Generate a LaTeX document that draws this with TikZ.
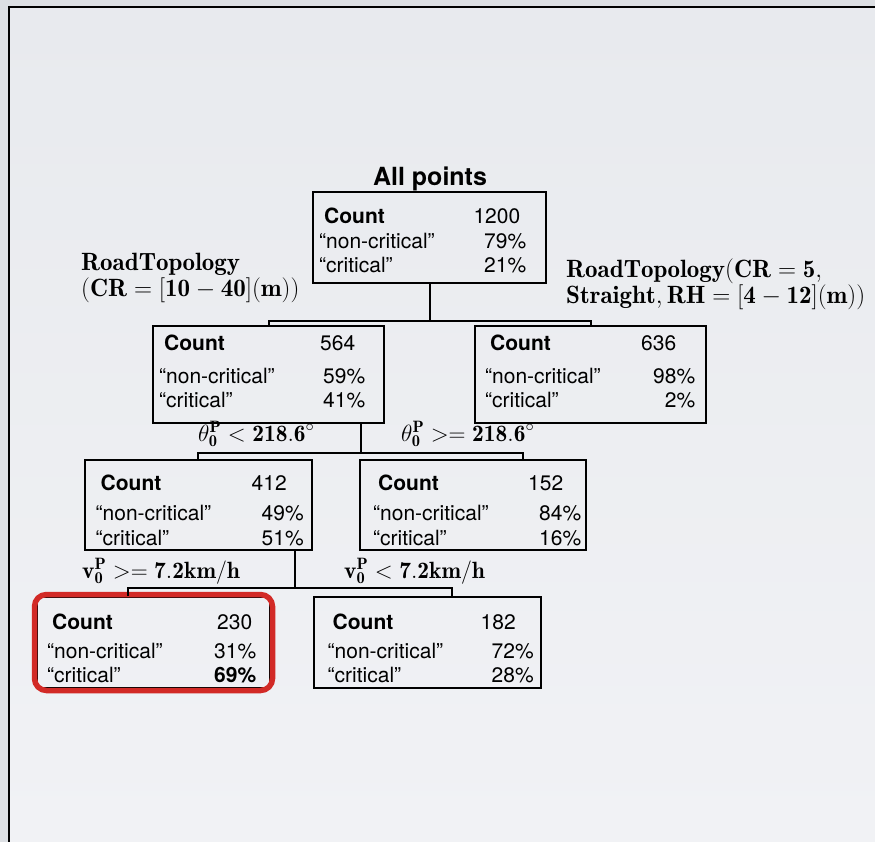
\RequirePackage{fix-cm}
\documentclass[tikz,border=0pt]{standalone}
\usepackage{fontspec}
\newfontfamily\helv{TeX Gyre Heros}
\usetikzlibrary{fit,calc}

\definecolor{paper}{HTML}{E8EAEE}
\definecolor{paperlight}{HTML}{F1F2F5}
\definecolor{paperedge}{HTML}{DCDFE3}
\definecolor{hilite}{HTML}{D22A26}

% rows of a tree cell: #1 left pad, #2 right pad of the shares, #3 right pad of the count,
% #4 extra gap below the count row, #5 count, #6 share of non-critical, #7 share of critical
\newcommand{\cellrows}[7]{%
  \hspace*{\dimexpr#1+5pt\relax}\textbf{Count}\hfill #5\kern#3\\[#4]
  \hspace*{#1}“non-critical”\hfill #6\kern#2\\
  \hspace*{#1}“critical”\hfill #7\kern#2}

\tikzset{
  cellframe/.style={draw=black, line width=2pt, inner sep=0pt},
  celltext/.style={anchor=base west, inner sep=0pt, align=left,
    font=\helv\fontsize{21}{24.5}\selectfont},
  link/.style={draw=black, line width=2pt},
  splitlabel/.style={anchor=base west, inner sep=0pt, align=left},
  bigmath/.style={font=\fontsize{25}{26}\selectfont},
  midmath/.style={font=\fontsize{23.5}{26}\selectfont}
}

\begin{document}
\begin{tikzpicture}[x=1pt, y=-1pt]
  \useasboundingbox (0,0) rectangle (875,842);

  % page background and frame
  \fill[paperedge] (0,0) rectangle (875,842);
  \shade[top color=paper, bottom color=paperlight] (9,7) rectangle (875,842);
  \draw[line width=2.5pt] (9,842) -- (9,7) -- (875,7);

  % tree cells: frames
  \node[cellframe, minimum width=233pt, minimum height=91pt] (root) at (429.5,237.5) {};
  \node[cellframe, minimum width=231pt, minimum height=97pt] (l2a) at (268.5,374.5) {};
  \node[cellframe, minimum width=231pt, minimum height=97pt] (l2b) at (590.5,374.5) {};
  \node[cellframe, minimum width=227pt, minimum height=90pt] (l3a) at (198,505) {};
  \node[cellframe, minimum width=226pt, minimum height=90pt] (l3b) at (473,505) {};
  \node[cellframe, minimum width=233pt, minimum height=91pt] (l4a) at (153.5,642.5) {};
  \node[cellframe, minimum width=227pt, minimum height=91pt] (l4b) at (427,642.5) {};

  % tree cells: contents (anchored at the baseline of the count row)
  \node[celltext, text width=233pt] (root-t) at ($(root.north west)+(0,32.5)$)
    {\cellrows{7pt}{19pt}{25pt}{0.5pt}{1200}{79\%}{21\%}};
  \node[celltext, text width=231pt] (l2a-t) at ($(l2a.north west)+(0,25.5)$)
    {\cellrows{7pt}{18pt}{28pt}{8pt}{564}{59\%}{41\%}};
  \node[celltext, text width=231pt] (l2b-t) at ($(l2b.north west)+(0,25.5)$)
    {\cellrows{11pt}{10pt}{29pt}{8pt}{636}{98\%}{2\%}};
  \node[celltext, text width=227pt] (l3a-t) at ($(l3a.north west)+(0,31.5)$)
    {\cellrows{12pt}{7pt}{24pt}{5.5pt}{412}{49\%}{51\%}};
  \node[celltext, text width=226pt] (l3b-t) at ($(l3b.north west)+(0,31.5)$)
    {\cellrows{14pt}{4pt}{22pt}{5.5pt}{152}{84\%}{16\%}};
  \node[celltext, text width=233pt] (l4a-t) at ($(l4a.north west)+(0,33)$)
    {\cellrows{11pt}{13pt}{17pt}{4.5pt}{230}{31\%}{\textbf{69\%}}};
  \node[celltext, text width=227pt] (l4b-t) at ($(l4b.north west)+(0,33)$)
    {\cellrows{15pt}{6pt}{24pt}{4.5pt}{182}{72\%}{28\%}};

  \node[anchor=base, inner sep=0pt, font=\helv\bfseries\fontsize{25}{30}\selectfont]
    (title) at (430,186) {All points};

  % highlighted leaf
  \node[fit=(l4a), inner sep=1.5pt, draw=hilite, line width=5.5pt,
        rounded corners=12pt] (mark) {};

  % split labels (anchored at the baseline of the last line)
  \node[splitlabel, font=\fontsize{25}{26}\selectfont] (s1a) at (81,296)
    {$\mathbf{RoadTopology}$\\$\mathbf{(CR=[10-40](m))}$};
  \node[splitlabel, bigmath] (s1b) at (566,303)
    {$\mathbf{RoadTopology(CR=5,}$\\$\mathbf{Straight,RH=[4-12](m))}$};
  \node[splitlabel, midmath] (s2a) at (198,441)
    {$\theta_{\mathbf{0}}^{\mathbf{P}} < \mathbf{218.6}^\circ$};
  \node[splitlabel, midmath] (s2b) at (401,441)
    {$\theta_{\mathbf{0}}^{\mathbf{P}} >= \mathbf{218.6}^\circ$};
  \node[splitlabel, midmath] (s3a) at (82,578)
    {$\mathbf{v}_{\mathbf{0}}^{\mathbf{P}} >= \mathbf{7.2km/h}$};
  \node[splitlabel, midmath] (s3b) at (344,578)
    {$\mathbf{v}_{\mathbf{0}}^{\mathbf{P}} < \mathbf{7.2km/h}$};

  % junction points of the connectors
  \coordinate (j1) at ($(root.south)+(0,37)$);
  \coordinate (d2) at ($(l2a.south east)+(-24,0)$);
  \coordinate (j2) at ($(d2)+(0,29)$);
  \coordinate (t3b) at ($(l3b.north west)+(164,0)$);
  \coordinate (d3) at ($(l3a.south east)+(-18,0)$);
  \coordinate (j3) at ($(d3)+(0,37)$);
  \coordinate (t4a) at ($(l4a.north west)+(92,0)$);
  \coordinate (t4b) at ($(l4b.north west)+(139,0)$);

  % connectors
  \draw[link] (root.south) -- (j1);
  \draw[link] (l2a.north) |- (j1) -| (l2b.north);
  \draw[link] (d2) -- (j2);
  \draw[link] (l3a.north) |- (j2) -| (t3b);
  \draw[link] (d3) -- (j3);
  \draw[link] (t4a) |- (j3) -| (t4b);
\end{tikzpicture}
\end{document}
